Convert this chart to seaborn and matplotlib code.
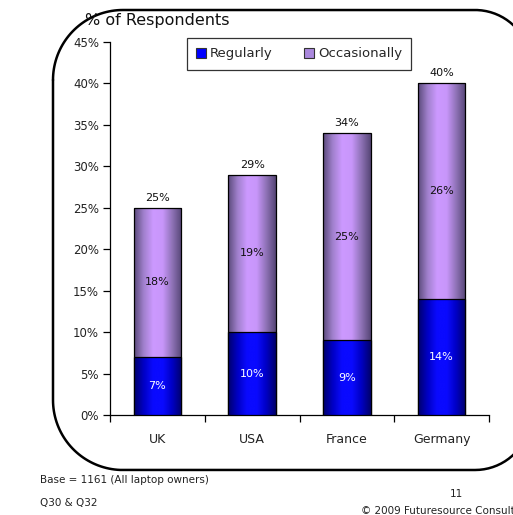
import numpy as np
import pandas as pd
import matplotlib
matplotlib.use("Agg")
import matplotlib.pyplot as plt
import seaborn as sns
from matplotlib.colors import LinearSegmentedColormap
from matplotlib.patches import Patch

countries = ["UK", "USA", "France", "Germany"]
regularly = [7, 10, 9, 14]
occasionally = [18, 19, 25, 26]
totals = [25, 29, 34, 40]
y_ticks = [0, 5, 10, 15, 20, 25, 30, 35, 40, 45]

sns.set_theme(style="white")
plt.rcParams["font.family"] = ["DejaVu Sans"]

df = pd.DataFrame({"country": countries, "regularly": regularly,
                   "occasionally": occasionally, "total": totals})

fig = plt.figure(figsize=(5.13, 5.15), dpi=100)

# full-figure overlay in pixel units for the rounded outline
overlay = fig.add_axes([0, 0, 1, 1], zorder=-1)
overlay.set_xlim(0, 513)
overlay.set_ylim(515, 0)
overlay.axis("off")


def corner(cx, cy, r, a0, a1):
    t = np.radians(np.linspace(a0, a1, 40))
    return cx + r * np.cos(t), cy + r * np.sin(t)


left, top, right, bottom = 53, 10, 531, 470
rl, rr = 70, 56
pieces = [
    corner(left + rl, top + rl, rl, 180, 270),          # top-left
    corner(right - rr, top + rr, rr, 270, 360),         # top-right
    corner(right - rr, bottom - rr, rr, 0, 90),         # bottom-right
    corner(left + rl, bottom - rl, rl, 90, 180),        # bottom-left
]
xs = np.concatenate([p[0] for p in pieces] + [pieces[0][0][:1]])
ys = np.concatenate([p[1] for p in pieces] + [pieces[0][1][:1]])
overlay.plot(xs, ys, color="black", linewidth=1.8, solid_joinstyle="round")

ax = fig.add_axes([110 / 513, 1 - 415 / 515, 379 / 513, 373 / 515])

# stacked bars: full height first, then the lower segment on top of it
sns.barplot(data=df, x="country", y="total", ax=ax, color="#cc99ff",
            width=0.5, edgecolor="black", linewidth=0.9, zorder=2)
sns.barplot(data=df, x="country", y="regularly", ax=ax, color="#0000ff",
            width=0.5, edgecolor="black", linewidth=0.9, zorder=3)

purple_cmap = LinearSegmentedColormap.from_list(
    "cyl_purple", ["#5a4a7a", "#a080cc", "#cc99ff", "#c896fa", "#8e72b6", "#554575"])
blue_cmap = LinearSegmentedColormap.from_list(
    "cyl_blue", ["#00006a", "#0000c4", "#0a0aff", "#0a0aff", "#0000c4", "#00006a"])

grad = np.linspace(0, 1, 256).reshape(1, -1)
n = len(countries)
for i, patch in enumerate(ax.patches):
    cmap = purple_cmap if i < n else blue_cmap
    x0, y0 = patch.get_x(), patch.get_y()
    w, h = patch.get_width(), patch.get_height()
    img = ax.imshow(grad, cmap=cmap, aspect="auto", extent=[x0, x0 + w, y0, y0 + h],
                    zorder=patch.get_zorder() + 0.01, interpolation="bicubic")
    img.set_clip_path(patch)
    patch.set_facecolor("none")
    patch.set_zorder(patch.get_zorder() + 0.1)

ax.set_xlim(-0.5, n - 0.5)
ax.set_ylim(0, 45)
ax.set_yticks(y_ticks)
ax.set_yticklabels([f"{t}%" for t in y_ticks], fontsize=8.5, color="#222222")

# category separators as major ticks, names as minor tick labels
ax.set_xticks(np.arange(-0.5, n, 1.0))
ax.set_xticklabels([])
ax.set_xticks(np.arange(n), minor=True)
ax.set_xticklabels(countries, minor=True, fontsize=9, color="#222222")
ax.tick_params(axis="x", which="major", direction="out", length=5, width=0.9,
               color="black", bottom=True)
ax.tick_params(axis="x", which="minor", length=0, pad=13)
ax.tick_params(axis="y", direction="out", length=5, width=0.9, color="black",
               left=True, pad=3)
ax.set_xlabel("")
ax.set_ylabel("")
for side in ["top", "right"]:
    ax.spines[side].set_visible(False)
for side in ["left", "bottom"]:
    ax.spines[side].set_color("black")
    ax.spines[side].set_linewidth(0.9)
ax.patch.set_alpha(0)

for i in range(n):
    ax.text(i, regularly[i] / 2, f"{regularly[i]}%", ha="center", va="center",
            fontsize=8, color="white", zorder=6)
    ax.text(i, regularly[i] + occasionally[i] / 2, f"{occasionally[i]}%",
            ha="center", va="center", fontsize=8, color="#111111", zorder=6)
    ax.text(i, totals[i] + 0.6, f"{totals[i]}%", ha="center",
            va="bottom", fontsize=8, color="#111111", zorder=6)

handles = [Patch(facecolor="#0000ff", edgecolor="#333333", linewidth=0.8, label="Regularly"),
           Patch(facecolor="#aa88dd", edgecolor="#333333", linewidth=0.8, label="Occasionally")]
leg = fig.legend(handles=handles, loc="center", bbox_to_anchor=(299 / 513, 1 - 54 / 515),
                 ncol=2, frameon=True, fancybox=False, fontsize=9.5,
                 handlelength=0.75, handleheight=0.75, handletextpad=0.3,
                 columnspacing=2.4, borderpad=0.7, borderaxespad=0)
leg.get_frame().set_edgecolor("black")
leg.get_frame().set_linewidth(0.9)

fig.text(85 / 513, 1 - 20 / 515, "% of Respondents", fontsize=11.5, va="center",
         ha="left", color="#111111")

fig.text(40 / 513, 1 - 480 / 515, "Base = 1161 (All laptop owners)", fontsize=7.5,
         va="center", ha="left", color="#222222")
fig.text(40 / 513, 1 - 503 / 515, "Q30 & Q32", fontsize=7.5, va="center",
         ha="left", color="#222222")
fig.text(456 / 513, 1 - 494 / 515, "11", fontsize=7.5, va="center", ha="center",
         color="#222222")
fig.text(361 / 513, 1 - 511 / 515, "\u00a9 2009 Futuresource Consulting", fontsize=7.5,
         va="center", ha="left", color="#222222")

fig.savefig("out.png", dpi=100)
